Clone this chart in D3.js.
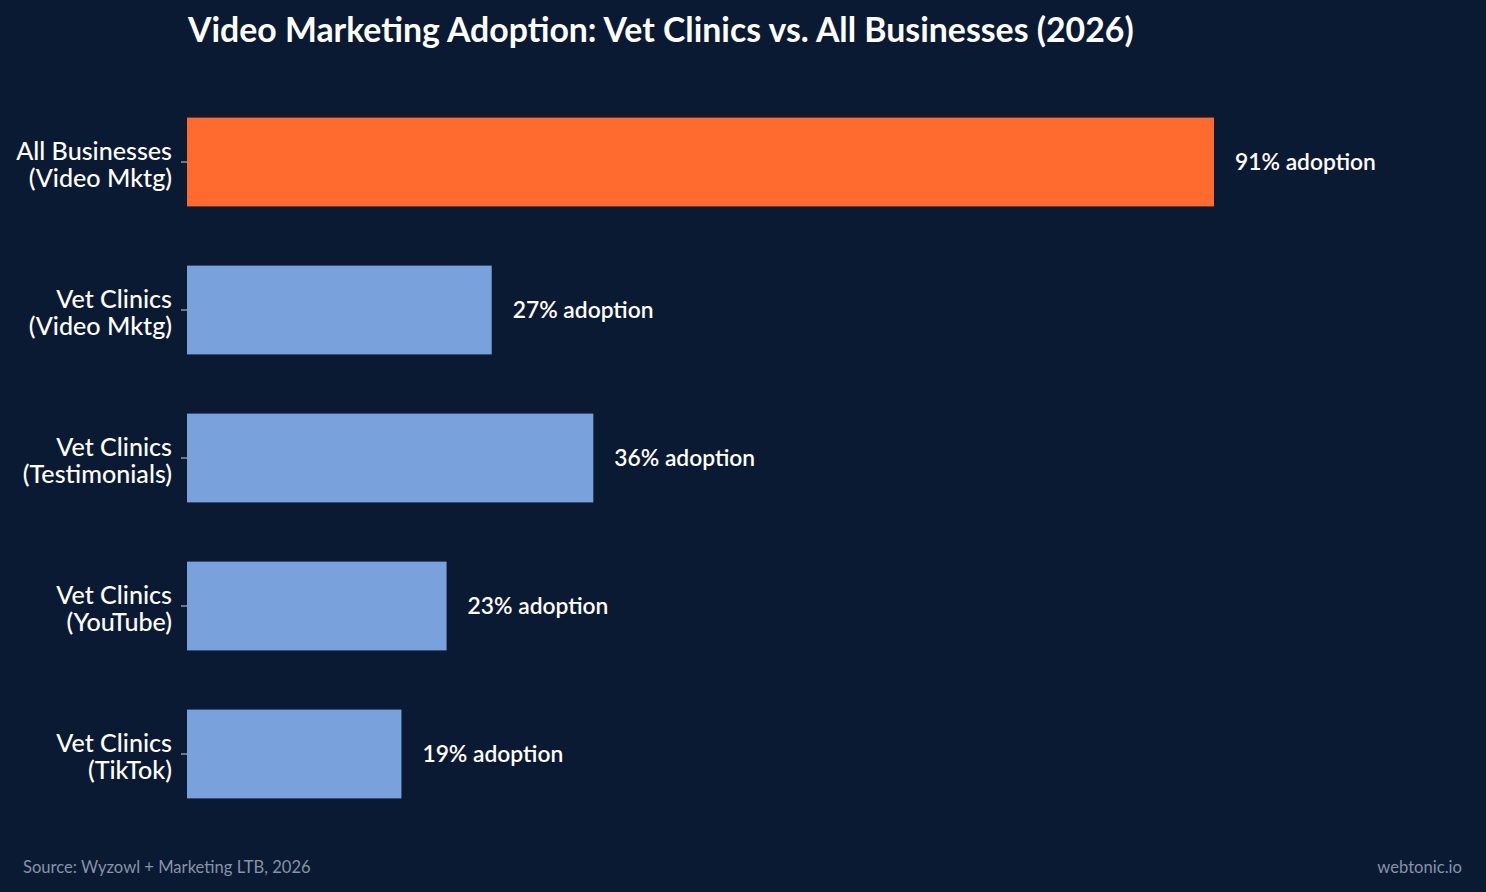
<!DOCTYPE html>
<html>
<head>
<meta charset="utf-8">
<script src="https://cdn.jsdelivr.net/npm/d3@7"></script>
<style>
  body { margin: 0; background: #0b1a33; }
  svg { display: block; font-family: Lato, "Open Sans", sans-serif; }
</style>
</head>
<body>
<svg id="chart"></svg>
<script>
// chart data
const categories = [
    ["All Businesses", "(Video Mktg)"],
    ["Vet Clinics", "(Video Mktg)"],
    ["Vet Clinics", "(Testimonials)"],
    ["Vet Clinics", "(YouTube)"],
    ["Vet Clinics", "(TikTok)"]
];
const adoption = [91, 27, 36, 23, 19];
const highlight = [true, false, false, false, false];

const width = 1486, height = 892;
const margin = {top: 88, right: 170.4, bottom: 64, left: 187};

const svg = d3.select('#chart')
    .attr('width', width)
    .attr('height', height);

svg.append('rect')
    .attr('width', width)
    .attr('height', height)
    .attr('fill', '#0b1a33');

const xScale = d3.scaleLinear()
    .domain([0, 100])
    .range([margin.left, width - margin.right]);

const yScale = d3.scaleBand()
    .domain(d3.range(categories.length))
    .range([margin.top, height - margin.bottom])
    .paddingInner(0.4)
    .paddingOuter(0.2);

// title
svg.append('text')
    .attr('x', 188)
    .attr('y', 42)
    .attr('fill', '#ffffff')
    .attr('font-size', 33.8)
    .attr('font-weight', 'bold')
    .text('Video Marketing Adoption: Vet Clinics vs. All Businesses (2026)');

// bars
svg.selectAll('.bar')
    .data(adoption)
    .join('rect')
    .attr('class', 'bar')
    .attr('x', xScale(0))
    .attr('y', (d, i) => yScale(i))
    .attr('width', d => xScale(d) - xScale(0))
    .attr('height', yScale.bandwidth())
    .attr('fill', (d, i) => highlight[i] ? '#ff6b2f' : '#79a1dc');

// value labels
svg.selectAll('.value')
    .data(adoption)
    .join('text')
    .attr('class', 'value')
    .attr('x', d => xScale(d) + 21)
    .attr('y', (d, i) => yScale(i) + yScale.bandwidth() / 2)
    .attr('dy', '0.35em')
    .attr('fill', '#ffffff')
    .attr('font-size', 22.8)
    .attr('font-weight', 600)
    .text(d => `${d}% adoption`);

// y axis
const yAxis = d3.axisLeft(yScale)
    .tickSize(6)
    .tickPadding(9)
    .tickFormat('');

const yAxisG = svg.append('g')
    .attr('transform', `translate(${margin.left},0)`)
    .call(yAxis)
    .attr('font-family', null);

yAxisG.select('.domain').remove();
yAxisG.selectAll('.tick line').attr('stroke', '#d0d4dc');

yAxisG.selectAll('.tick').each(function(i) {
    const t = d3.select(this).append('text')
        .attr('x', -15)
        .attr('fill', '#ffffff')
        .attr('font-size', 25.1)
        .attr('font-weight', 500)
        .attr('text-anchor', 'end');
    categories[i].forEach((line, k) => {
        t.append('tspan')
            .attr('x', -15)
            .attr('y', k === 0 ? -2.5 : 25)
            .text(line);
    });
});

// footer
svg.append('text')
    .attr('x', 23)
    .attr('y', 873)
    .attr('fill', '#8793a8')
    .attr('font-size', 16.6)
    .text('Source: Wyzowl + Marketing LTB, 2026');

svg.append('text')
    .attr('x', 1462)
    .attr('y', 873)
    .attr('fill', '#8793a8')
    .attr('font-size', 16.6)
    .attr('text-anchor', 'end')
    .text('webtonic.io');
</script>
</body>
</html>
